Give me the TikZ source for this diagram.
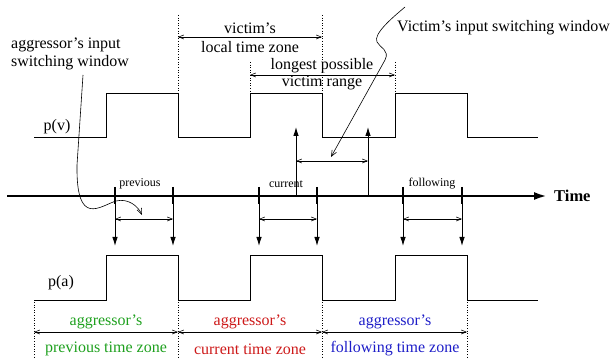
\documentclass[tikz,border=0pt]{standalone}
\usepackage{fontspec}
\setmainfont{Liberation Serif}
\usetikzlibrary{arrows.meta}

\definecolor{zonegreen}{RGB}{30,160,30}
\definecolor{zonered}{RGB}{205,25,25}
\definecolor{zoneblue}{RGB}{30,30,200}

\begin{document}
\begin{tikzpicture}[x=1pt,y=-1pt,
	wave/.style={line width=0.9pt},
	zoneline/.style={dotted, line width=0.6pt},
	span/.style={line width=0.6pt, {Straight Barb[length=5pt,width=4pt]}-{Straight Barb[length=5pt,width=4pt]}},
	drop/.style={line width=0.9pt, -{Latex[length=9pt,width=5.5pt]}},
	callout/.style={line width=0.6pt, -{Straight Barb[length=6pt,width=5pt]}},
	tickmark/.style={line width=2.6pt},
	lbl/.style={font=\fontsize{16}{18}\selectfont, inner sep=0pt},
	small/.style={font=\fontsize{12}{14}\selectfont, inner sep=0pt}]

	\useasboundingbox (0,0) rectangle (613,358);

	% victim and aggressor signals
	\draw[wave] (34,137) -| (106,93) -| (178,137) -| (250,93) -| (322,137) -| (395,93) -| (467,137) -- (538,137);
	\draw[wave] (34,300) -| (106,255) -| (178,300) -| (250,255) -| (322,300) -| (395,255) -| (467,300) -- (538,300);
	\node[lbl] (pv) at (57,127) {p(v)};
	\node[lbl] (pa) at (61,283) {p(a)};

	% time axis
	\coordinate (axis_start) at (7,196);
	\coordinate (axis_end) at (547,196);
	\draw[line width=2.4pt, -{Latex[length=13pt,width=8pt]}] (axis_start) -- (axis_end);
	\node[font=\fontsize{16.5}{18}\selectfont\bfseries, anchor=west, inner sep=0pt] (time) at (554,196) {Time};

	% aggressor switching points
	\foreach \n/\x in {1/115,2/173,3/259,4/317,5/403,6/462} {
		\coordinate (t_\n) at (\x,196);
		\coordinate (a_\n) at (\x,246);
		\coordinate (s_\n) at (\x,219);
		\draw[tickmark] (\x,187) -- (\x,204);
		\draw[drop] (t_\n) -- (a_\n);
	}
	\draw[span] (s_1) -- (s_2);
	\draw[span] (s_3) -- (s_4);
	\draw[span] (s_5) -- (s_6);
	\node[small] (prev) at (140,184) {previous};
	\node[small] (curr) at (286,184) {current};
	\node[small] (foll) at (432,184) {following};

	% victim input switching window
	\coordinate (w_1) at (296,196);
	\coordinate (w_2) at (368,196);
	\coordinate (wt_1) at (296,127);
	\coordinate (wt_2) at (368,127);
	\coordinate (ws_1) at (296,161);
	\coordinate (ws_2) at (368,161);
	\draw[drop] (w_1) -- (wt_1);
	\draw[drop] (w_2) -- (wt_2);
	\draw[span] (ws_1) -- (ws_2);

	% victim's local time zone
	\draw[zoneline] (178,15) -- (178,93);
	\draw[zoneline] (322,15) -- (322,93);
	\coordinate (lz_1) at (178,37);
	\coordinate (lz_2) at (322,37);
	\draw[span] (lz_1) -- (lz_2);
	\node[lbl] (lz_top) at (250,28) {victim's};
	\node[lbl] (lz_bot) at (250,47) {local time zone};

	% longest possible victim range
	\draw[zoneline] (250,62) -- (250,93);
	\draw[zoneline] (395,62) -- (395,93);
	\coordinate (vr_1) at (250,75);
	\coordinate (vr_2) at (395,75);
	\draw[span] (vr_1) -- (vr_2);
	\node[lbl] (vr_top) at (322,66) {longest possible};
	\node[lbl] (vr_bot) at (322,83) {victim range};

	% aggressor's time zones
	\foreach \x in {34,178,322,467}
		\draw[zoneline] (\x,302) -- (\x,358);
	\coordinate (z_1) at (34,332);
	\coordinate (z_2) at (178,332);
	\coordinate (z_3) at (322,332);
	\coordinate (z_4) at (467,332);
	\draw[span] (z_1) -- (z_2);
	\draw[span] (z_2) -- (z_3);
	\draw[span] (z_3) -- (z_4);
	\node[lbl, text=zonegreen] (zp_top) at (106,322) {aggressor's};
	\node[lbl, text=zonegreen] (zp_bot) at (106,349) {previous time zone};
	\node[lbl, text=zonered] (zc_top) at (250,322) {aggressor's};
	\node[lbl, text=zonered] (zc_bot) at (250,349) {current time zone};
	\node[lbl, text=zoneblue] (zf_top) at (395,322) {aggressor's};
	\node[lbl, text=zoneblue] (zf_bot) at (395,349) {following time zone};

	% callouts
	\node[lbl, align=left, anchor=north west] (aggwin) at (11,38) {aggressor's input\\switching window};
	\node[lbl, anchor=west] (vicwin) at (397,28) {Victim's input switching window};
	\coordinate (aggwin_end) at (142,215);
	\coordinate (vicwin_start) at (405,7);
	\coordinate (vicwin_end) at (331,157);
	\draw[callout] (83,75) -- (77,165) .. controls (76,228) and (100,206) .. (116,201) .. controls (128,198) and (138,206) .. (aggwin_end);
	\draw[callout] (vicwin_start) .. controls (392,18) and (373,34) .. (377,42) .. controls (380,48) and (390,50) .. (385,60) -- (vicwin_end);
\end{tikzpicture}
\end{document}
